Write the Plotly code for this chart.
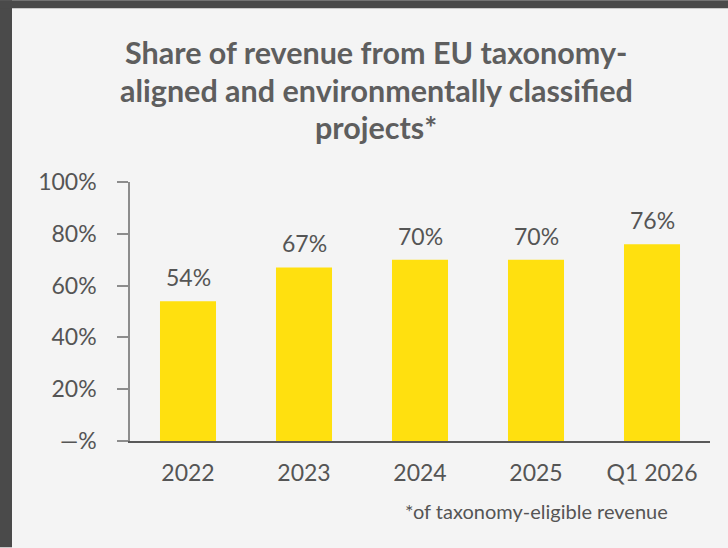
import plotly.graph_objects as go

# Chart data
categories = ["2022", "2023", "2024", "2025", "Q1 2026"]
shares = [0.54, 0.67, 0.70, 0.70, 0.76]
value_labels = ["54%", "67%", "70%", "70%", "76%"]
y_tick_values = [0, 0.2, 0.4, 0.6, 0.8, 1.0]
y_tick_labels = ["\u2014%", "20%", "40%", "60%", "80%", "100%"]

title_lines = [
    "Share of revenue from EU taxonomy-",
    "aligned and environmentally classified",
    "projects*",
]
footnote = "*of taxonomy-eligible revenue"

FONT = "Lato, 'Open Sans', sans-serif"
TEXT_GREY = "#555555"
BAR_YELLOW = "#FFE00F"
PANEL = "#F4F4F4"
FRAME = "#4A4A4A"

W, H = 728, 548
L, R, T, B = 130, 18, 182, 106.5
plot_w = W - L - R
plot_h = H - T - B


def px_x(px):
    return (px - L) / plot_w


def px_y(py):
    return (H - B - py) / plot_h


# category slots on a linear axis (avoids year strings being read as dates)
slots = list(range(len(categories)))

fig = go.Figure(
    go.Bar(
        x=slots,
        y=shares,
        marker=dict(color=BAR_YELLOW, line=dict(width=0)),
        width=0.483,
        hoverinfo="skip",
    )
)

# value labels above each bar
for pos, val, lab in zip(slots, shares, value_labels):
    fig.add_annotation(
        x=pos, y=val, text=lab, showarrow=False,
        yanchor="bottom", yshift=8,
        font=dict(family=FONT, size=23, color=TEXT_GREY),
    )

# title, three centred lines
for i, line in enumerate(title_lines):
    fig.add_annotation(
        xref="paper", yref="paper",
        x=px_x(376), y=px_y(52 + i * 37.5),
        text="<b>" + line + "</b>", showarrow=False,
        xanchor="center", yanchor="middle",
        font=dict(family=FONT, size=30.5, color="#5E5E5E"),
    )

fig.add_annotation(
    xref="paper", yref="paper",
    x=px_x(536), y=px_y(512),
    text=footnote, showarrow=False,
    xanchor="center", yanchor="middle",
    font=dict(family=FONT, size=20, color=TEXT_GREY),
)

# dark frame strips along the top and left edges
fig.add_shape(type="rect", xref="paper", yref="paper", layer="below",
              x0=px_x(0), x1=px_x(12), y0=px_y(H), y1=px_y(0),
              fillcolor=FRAME, line=dict(width=0))
fig.add_shape(type="rect", xref="paper", yref="paper", layer="below",
              x0=px_x(0), x1=px_x(W), y0=px_y(8), y1=px_y(0),
              fillcolor=FRAME, line=dict(width=0))

fig.update_layout(
    width=W, height=H,
    margin=dict(l=L, r=R, t=T, b=B, pad=0),
    paper_bgcolor=PANEL,
    plot_bgcolor=PANEL,
    showlegend=False,
    font=dict(family=FONT, color=TEXT_GREY),
    xaxis=dict(
        type="linear", range=[-0.5, len(categories) - 0.5],
        tickmode="array", tickvals=slots, ticktext=categories,
        showgrid=False, zeroline=False,
        showline=True, linecolor="#595959", linewidth=2,
        ticks="", ticklabelstandoff=10,
        tickfont=dict(family=FONT, size=23, color=TEXT_GREY),
    ),
    yaxis=dict(
        range=[0, 1], showgrid=False, zeroline=False,
        showline=True, linecolor="#8C8C8C", linewidth=1.5,
        tickmode="array", tickvals=y_tick_values, ticktext=y_tick_labels,
        ticks="outside", ticklen=11, tickcolor="#8C8C8C", tickwidth=1.5,
        ticklabelstandoff=16,
        tickfont=dict(family=FONT, size=23, color=TEXT_GREY),
    ),
)

fig.write_html("out.html")
